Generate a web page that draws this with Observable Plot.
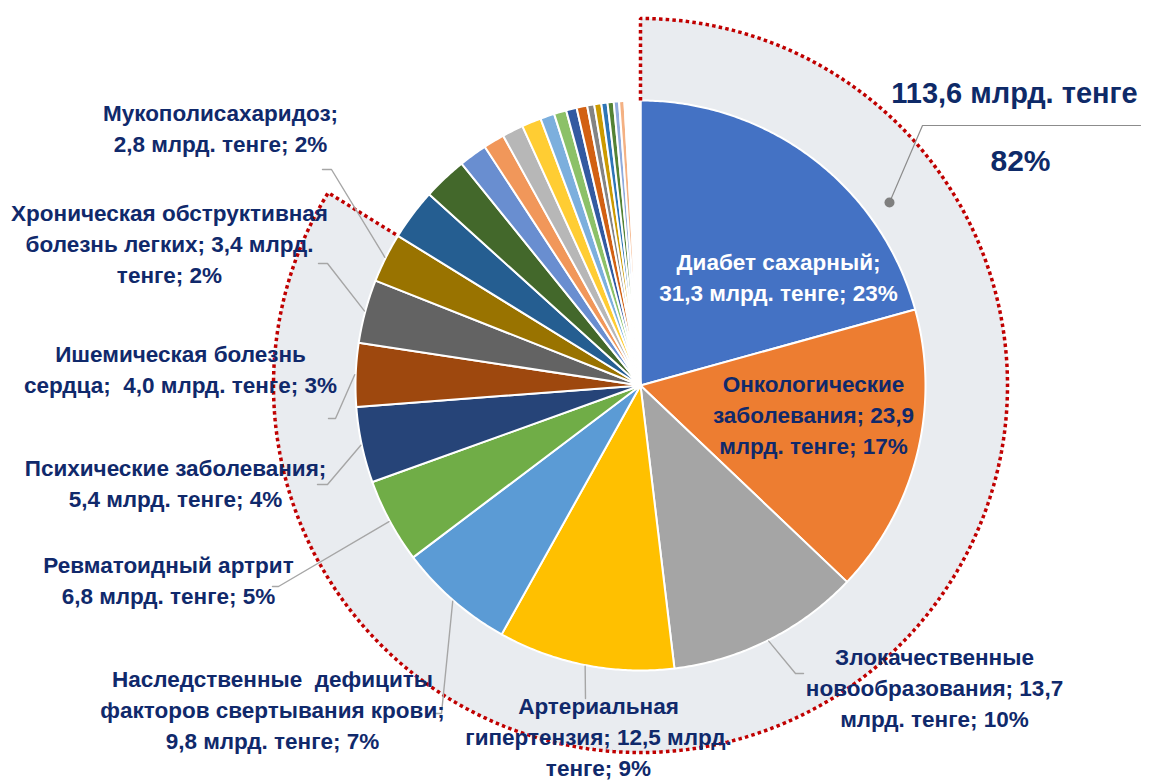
<!DOCTYPE html>
<html><head><meta charset="utf-8">
<script src="https://cdn.jsdelivr.net/npm/d3@7"></script>
<script src="https://cdn.jsdelivr.net/npm/@observablehq/plot@0.6"></script>
<style>html,body{margin:0;padding:0;background:#fff;} #chart svg{display:block;}</style>
</head><body><div id="chart"></div>
<script>
// ---------- DATA ----------
const categories = [
  "Диабет сахарный", "Онкологические заболевания", "Злокачественные новообразования",
  "Артериальная гипертензия", "Наследственные\u00a0 дефициты факторов свертывания крови",
  "Ревматоидный артрит", "Психические заболевания", "Ишемическая болезнь сердца",
  "Хроническая обструктивная болезнь легких", "Мукополисахаридоз"
];
const amounts = [31.3, 23.9, 13.7, 12.5, 9.8, 6.8, 5.4, 4.0, 3.4, 2.8];   // млрд. тенге
const percents = [23, 17, 10, 9, 7, 5, 4, 3, 2, 2];
// share of the circle each slice takes as drawn (%)
const drawnShares = [20.7, 16.4, 11.0, 10.0, 6.6, 4.8, 4.3, 3.6, 3.6, 2.8];
// the many small unlabeled slices (%), last one is the blank remainder
const minorShares = [2.9, 2.5, 1.6, 1.2, 1.2, 1.1, 0.8, 0.7, 0.6, 0.6, 0.4, 0.4, 0.35, 0.35, 0.3, 0.3, 0.9];
const totalAmount = "113,6";
const totalPercent = 82;

// ---------- STYLE / LAYOUT ----------
const mainColors = ["#4472C4","#ED7D31","#A5A5A5","#FFC000","#5B9BD5","#70AD47","#264478","#9E480E","#636363","#997300"];
const minorColors = ["#255E91","#43682B","#698ED0","#F1975A","#B7B7B7","#FFCD33","#7CAFDD","#8CC168",
                     "#335AA1","#D26012","#848484","#CC9A00","#2E75B6","#548235","#8FAADC","#F4B183","#FFFFFF"];
const W = 1162, H = 783;
const CX = 640, CY = 385, R = 285, RING = 367;
const NAVY = "#10296B";
const FONT = "'Liberation Sans Narrow','Arial Narrow','Liberation Sans',Arial,sans-serif";
// label: separator after the name, words per line, block centre (px), text colour
const labelSep = [";", ";", ";", ";", ";", "", ";", ";\u00a0", ";", ";"];
const labelWrap = [[2,4],[1,2,3],[1,2,3],[1,3,2],[2,3,4],[2,4],[2,4],[2,5],[2,4,2],[1,4]];
const labelPos = [[778,275],[813,413],[934,686],[598,735],[272,708],[168,578],[175,481],[180,367],[169,242],[220,126]];
const labelFill = ["#FFFFFF", NAVY, NAVY, NAVY, NAVY, NAVY, NAVY, NAVY, NAVY, NAVY];
// leader lines: extra points (px) after the slice-edge start
const leaderPts = [null, null, [[795,673],[803,673]], [[585,698]], [[441,713],[433,713]],
  [[278,586],[272,586]], [[327,484],[317,484]], [[335,418],[328,418]], [[327,263],[318,263]], [[331,169],[322,169]]];

// ---------- GEOMETRY ----------
const px = (x) => x - CX, py = (y) => CY - y;
const shares = drawnShares.concat(minorShares);
const colors = mainColors.concat(minorColors);
const total = d3.sum(shares);
const cum = d3.cumsum(shares);
const slices = shares.map((s, i) => ({i, a0: (cum[i] - s) / total * 2 * Math.PI, a1: cum[i] / total * 2 * Math.PI, color: colors[i]}));
const pt = (a, r) => [r * Math.sin(a), r * Math.cos(a)];
function arcPts(a0, a1, r) {
  const n = Math.max(2, Math.ceil((a1 - a0) / (Math.PI / 360)));
  return d3.range(n + 1).map(k => pt(a0 + (a1 - a0) * k / n, r));
}
const slicePoly = slices.flatMap(s => [[0,0], ...arcPts(s.a0, s.a1, R), [0,0]].map(([x,y]) => ({x, y, z: s.i, color: s.color})));
const mainEnd = slices[categories.length - 1].a1;
const ringPoly = [[0,0], ...arcPts(0, mainEnd, RING), [0,0]].map(([x,y]) => ({x, y}));
const outline = [pt(0, R), ...arcPts(0, mainEnd, RING), pt(mainEnd, R)].map(([x,y]) => ({x, y}));

const leaders = [];
leaderPts.forEach((p, i) => {
  if (!p) return;
  const m = (slices[i].a0 + slices[i].a1) / 2;
  const [sx, sy] = pt(m, R + 1);
  leaders.push({x: sx, y: sy, z: i});
  p.forEach(([x, y]) => leaders.push({x: px(x), y: py(y), z: i}));
});
// total leader
const totalLeader = [[889,202],[922,125],[1140,125]].map(([x,y]) => ({x: px(x), y: py(y), z: "t"}));

const fmt = v => v.toFixed(1).replace(".", ",");
const labels = categories.map((c, i) => {
  const words = `${c}${labelSep[i]} ${fmt(amounts[i])} млрд. тенге; ${percents[i]}%`.split(" ");
  let k = 0;
  const lines = labelWrap[i].map(n => { const l = words.slice(k, k + n).join(" "); k += n; return l; });
  return {text: lines.join("\n"), x: px(labelPos[i][0]), y: py(labelPos[i][1]), fill: labelFill[i]};
});
const totals = [
  {text: `${totalAmount} млрд. тенге`, x: px(1014), y: py(93), size: 29},
  {text: `${totalPercent}%`, x: px(1020), y: py(161), size: 30}
];

const chart = Plot.plot({
  width: W, height: H, margin: 0,
  x: {domain: [-CX, W - CX], range: [0, W], axis: null},
  y: {domain: [CY - H, CY], range: [H, 0], axis: null},
  color: {type: "identity"},
  marks: [
    Plot.line(ringPoly, {x: "x", y: "y", fill: "#E9ECF0", stroke: "none", curve: "linear"}),
    Plot.line(slicePoly, {x: "x", y: "y", z: "z", fill: "color", stroke: "white", strokeWidth: 2, strokeLinejoin: "round", curve: "linear"}),
    Plot.line(outline, {x: "x", y: "y", stroke: "#C00000", strokeWidth: 3.5, strokeDasharray: "3.5 3.2", strokeLinecap: "butt", strokeLinejoin: "miter", curve: "linear"}),
    Plot.line(leaders, {x: "x", y: "y", z: "z", stroke: "#A6A6A6", strokeWidth: 1.4, curve: "linear"}),
    Plot.line(totalLeader, {x: "x", y: "y", z: "z", stroke: "#8C8C8C", strokeWidth: 1.2, curve: "linear"}),
    Plot.dot([totalLeader[0]], {x: "x", y: "y", r: 5, fill: "#7F7F7F", stroke: "none"}),
    Plot.text(labels, {x: "x", y: "y", text: "text", fill: "fill", fontSize: 22.5, fontWeight: "bold", fontFamily: FONT,
      lineHeight: 1.38, lineAnchor: "middle", textAnchor: "middle"}),
    Plot.text(totals, {x: "x", y: "y", text: "text", fill: "#0E2A68", fontSize: "size", fontWeight: "bold", fontFamily: FONT,
      lineAnchor: "middle", textAnchor: "middle"})
  ]
});
document.getElementById("chart").appendChild(chart);
</script>
</body></html>
